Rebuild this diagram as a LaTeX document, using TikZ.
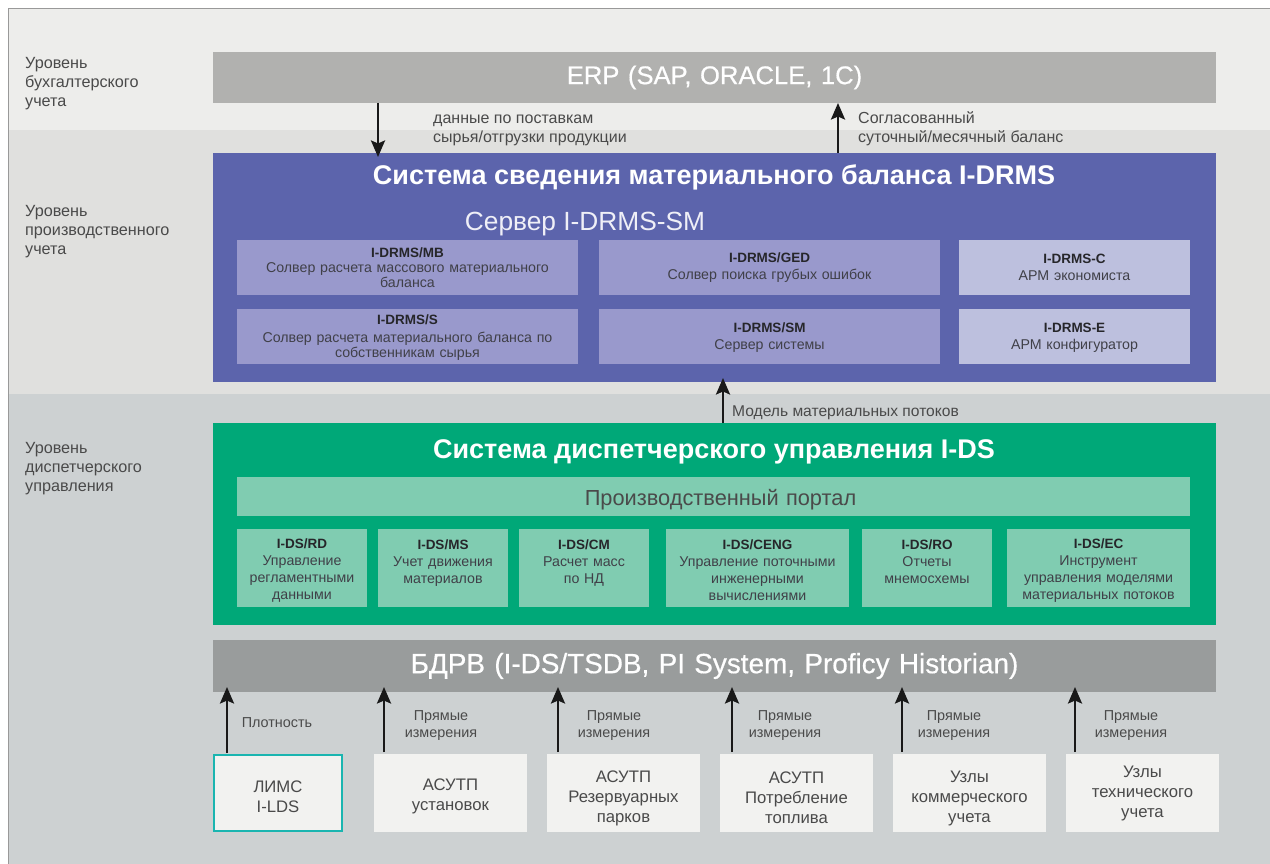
\documentclass[tikz,border=0pt]{standalone}
\usepackage{fontspec}
\setmainfont{Liberation Sans}
\newfontfamily\medf[FakeBold=0.5]{Liberation Sans}
\usetikzlibrary{arrows.meta}
\definecolor{bandA}{HTML}{EDEDEB}
\definecolor{bandB}{HTML}{E0E0DE}
\definecolor{bandC}{HTML}{CDD1D2}
\definecolor{erpc}{HTML}{B1B1AF}
\definecolor{bluec}{HTML}{5C64AC}
\definecolor{bluem}{HTML}{9999CC}
\definecolor{bluel}{HTML}{BDC0DE}
\definecolor{greenc}{HTML}{00A878}
\definecolor{greenl}{HTML}{80CCB1}
\definecolor{bdc}{HTML}{999C9C}
\definecolor{srcc}{HTML}{F2F2F0}
\definecolor{tealc}{HTML}{1AB5B0}
\definecolor{txt}{HTML}{4A4A4A}
\definecolor{txts}{HTML}{404048}
\definecolor{txtd}{HTML}{26262A}
\newcommand{\hd}[1]{{\color{txtd}\fontsize{13.5}{14.6}\selectfont\bfseries #1}}
\newcommand{\dn}[1]{\rule{0pt}{#1pt}}
\tikzset{
  x=1pt,y=-1pt,
  barbox/.style={inner sep=0pt,outer sep=0pt,align=center,text=white},
  subbox/.style={barbox,text=txts,font=\fontsize{14.2}{14.6}\selectfont},
  grbox/.style={barbox,fill=greenl,text=txts,font=\fontsize{14.2}{17}\selectfont},
  srcbox/.style={barbox,fill=srcc,text=txt,font=\fontsize{16.7}{20}\selectfont},
  lbl/.style={inner sep=0pt,anchor=west,align=left,text=txt,font=\fontsize{16.2}{19}\selectfont},
  clbl/.style={lbl,font=\fontsize{16}{19}\selectfont},
  captext/.style={inner sep=0pt,align=center,text=txt,font=\fontsize{14.4}{17}\selectfont},
  arr/.style={draw=black!90,line width=2.6pt,-{Stealth[length=16.5pt,width=14pt,inset=3pt]}},
}
\newcommand{\bx}[7]{%
  \pgfmathsetmacro{\bxw}{#4-#2}\pgfmathsetmacro{\bxh}{#5-#3}%
  \node[#6,minimum width=\bxw pt,minimum height=\bxh pt,text width=\bxw pt-6pt] (#1) at ({(#2+#4)/2},{(#3+#5)/2}) {#7};}
\begin{document}
\begin{tikzpicture}
\useasboundingbox (0,0) rectangle (1270,864);
\fill[white] (0,0) rectangle (1270,864);
\fill[bandA] (8,9) rectangle (1270,130);
\fill[bandB] (8,130) rectangle (1270,394);
\fill[bandC] (8,394) rectangle (1270,864);
\draw[black!40,line width=1pt] (8,864) -- (8,9) -- (1270,9);

\node[lbl] (l1) at (25,84) {Уровень\\бухгалтерского\\учета};
\node[lbl] (l2) at (25,232) {Уровень\\производственного\\учета};
\node[lbl] (l3) at (25,469) {Уровень\\диспетчерского\\управления};

\bx{erp}{213}{52}{1216}{103}{barbox,fill=erpc,font=\fontsize{25.6}{30}\medf}{ERP (SAP, ORACLE, 1C)}
\bx{blue}{213}{153}{1216}{382}{fill=bluec,inner sep=0pt,outer sep=0pt}{}
\node[barbox,font=\fontsize{27}{30}\selectfont\bfseries] (bluet) at (714,177) {Система сведения материального баланса I-DRMS};
\node[barbox,font=\fontsize{26.3}{30}\selectfont,text=white!90!bluec] (blues) at (585,224) {Сервер I-DRMS-SM};

\bx{mb}{237}{240}{578}{295}{subbox,fill=bluem}{\hd{I-DRMS/MB}\\[1pt]Солвер расчета массового материального\\баланса}
\bx{ged}{599}{240}{940}{295}{subbox,fill=bluem}{\hd{I-DRMS/GED}\\[2pt]Солвер поиска грубых ошибок}
\bx{drc}{959}{240}{1190}{295}{subbox,fill=bluel}{\hd{I-DRMS-C}\\[2pt]АРМ экономиста}
\bx{drs}{237}{309}{578}{364}{subbox,fill=bluem}{\dn{12}\hd{I-DRMS/S}\\[3pt]Солвер расчета материального баланса по\\собственникам сырья}
\bx{sm}{599}{309}{940}{364}{subbox,fill=bluem}{\dn{12}\hd{I-DRMS/SM}\\[2pt]Сервер системы}
\bx{dre}{959}{309}{1190}{364}{subbox,fill=bluel}{\dn{12}\hd{I-DRMS-E}\\[2pt]АРМ конфигуратор}

\bx{green}{213}{423}{1216}{625}{fill=greenc,inner sep=0pt,outer sep=0pt}{}
\node[barbox,font=\fontsize{27}{30}\selectfont\bfseries] (greent) at (714,452) {Система диспетчерского управления I-DS};
\bx{portal}{237}{477}{1190}{516}{barbox,fill=greenl,text=txt,font=\fontsize{21.8}{24}\selectfont}{\dn{22}\hspace*{14pt}Производственный портал}

\bx{rd}{237}{529}{367}{607}{grbox}{\dn{14}\hd{I-DS/RD}\\Управление регламентными данными}
\bx{ms}{378}{529}{508}{607}{grbox}{\dn{14}\hd{I-DS/MS}\\Учет движения материалов\\\mbox{}}
\bx{cm}{519}{529}{649}{607}{grbox}{\dn{14}\hd{I-DS/CM}\\Расчет масс\\по НД\\\mbox{}}
\bx{ceng}{666}{529}{849}{607}{grbox}{\dn{14}\hd{I-DS/CENG}\\Управление поточными инженерными вычислениями}
\bx{ro}{862}{529}{992}{607}{grbox}{\dn{14}\hd{I-DS/RO}\\Отчеты\\мнемосхемы\\\mbox{}}
\bx{ec}{1007}{529}{1190}{607}{grbox}{\dn{14}\hd{I-DS/EC}\\Инструмент\\управления моделями материальных потоков}

\bx{bd}{213}{640}{1216}{692}{barbox,fill=bdc,font=\fontsize{27.9}{30}\medf}{БДРВ (I-DS/TSDB, PI System, Proficy Historian)}

\bx{lims}{214}{755}{342}{831}{srcbox,draw=tealc,line width=2pt}{\dn{19}ЛИМС\\I-LDS}
\bx{s1}{374}{754}{527}{832}{srcbox}{\dn{19}АСУТП\\установок}
\bx{s2}{547}{754}{700}{832}{srcbox}{\dn{22}АСУТП\\Резервуарных\\парков}
\bx{s3}{720}{754}{873}{832}{srcbox}{\dn{22}АСУТП\\Потребление\\топлива}
\bx{s4}{893}{754}{1046}{832}{srcbox}{\dn{22}Узлы\\коммерческого\\учета}
\bx{s5}{1066}{754}{1219}{832}{srcbox}{Узлы\\технического\\учета}

% connectors
\coordinate (xa) at (378,0);
\coordinate (xb) at (838,0);
\coordinate (xc) at (723,0);
\coordinate (x0) at (227,0);
\coordinate (x1) at (384,0);
\coordinate (x2) at (558,0);
\coordinate (x3) at (732,0);
\coordinate (x4) at (902,0);
\coordinate (x5) at (1075,0);
\draw[arr,shorten >=-4pt] (erp.south -| xa) -- (blue.north -| xa);
\draw[arr] (blue.north -| xb) -- (erp.south -| xb);
\draw[arr,shorten >=-4pt] (green.north -| xc) -- (blue.south -| xc);
\draw[arr,shorten >=-5pt,shorten <=2pt] (lims.north -| x0) -- (bd.south -| x0);
\draw[arr,shorten >=-5pt,shorten <=2pt] (s1.north -| x1) -- (bd.south -| x1);
\draw[arr,shorten >=-5pt,shorten <=2pt] (s2.north -| x2) -- (bd.south -| x2);
\draw[arr,shorten >=-5pt,shorten <=2pt] (s3.north -| x3) -- (bd.south -| x3);
\draw[arr,shorten >=-5pt,shorten <=2pt] (s4.north -| x4) -- (bd.south -| x4);
\draw[arr,shorten >=-5pt,shorten <=2pt] (s5.north -| x5) -- (bd.south -| x5);

\node[clbl] (c1) at (433,130) {данные по поставкам\\сырья/отгрузки продукции};
\node[clbl] (c2) at (858,129) {Согласованный\\суточный/месячный баланс};
\node[clbl,font=\fontsize{15.6}{19}\selectfont] (c3) at (732,413) {Модель материальных потоков};
\node[captext] (p0) at (277,723) {Плотность};
\node[captext] (p1) at (441,726) {Прямые\\измерения};
\node[captext] (p2) at (614,726) {Прямые\\измерения};
\node[captext] (p3) at (785,726) {Прямые\\измерения};
\node[captext] (p4) at (954,726) {Прямые\\измерения};
\node[captext] (p5) at (1131,726) {Прямые\\измерения};
\end{tikzpicture}
\end{document}
